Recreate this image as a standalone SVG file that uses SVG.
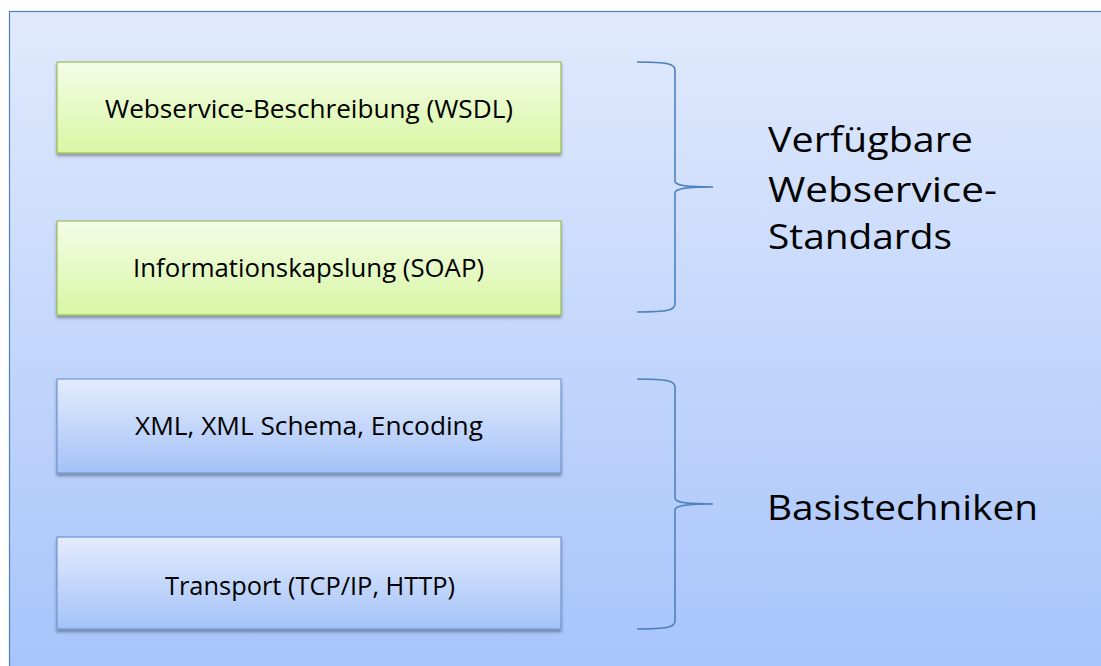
<svg xmlns="http://www.w3.org/2000/svg" width="1101" height="666" viewBox="0 0 1101 666">
  <defs>
    <linearGradient id="bgGrad" x1="0" y1="0" x2="0" y2="1">
      <stop offset="0" stop-color="#E1EAFC"/>
      <stop offset="1" stop-color="#A6C3FB"/>
    </linearGradient>
    <linearGradient id="greenGrad" x1="0" y1="0" x2="0" y2="1">
      <stop offset="0" stop-color="#F4FCE8"/>
      <stop offset="1" stop-color="#D8F7A3"/>
    </linearGradient>
    <linearGradient id="blueGrad" x1="0" y1="0" x2="0" y2="1">
      <stop offset="0" stop-color="#E4ECFD"/>
      <stop offset="1" stop-color="#A4C2F8"/>
    </linearGradient>
    <filter id="shadow" x="-5%" y="-10%" width="110%" height="130%">
      <feDropShadow dx="0" dy="2.5" stdDeviation="1.5" flood-color="#000" flood-opacity="0.35"/>
    </filter>
  </defs>
  <style>
    .green { fill: url(#greenGrad); stroke: #9BBB59; stroke-width: 1.2; filter: url(#shadow); }
    .blue { fill: url(#blueGrad); stroke: #7097D3; stroke-width: 1.2; filter: url(#shadow); }
    .lbl { font-family: "Open Sans", "Noto Sans", sans-serif; font-size: 25px; fill: #000; text-anchor: start; }
    .big { font-family: "Open Sans", "Noto Sans", sans-serif; font-size: 35px; fill: #000; }
    .brace { fill: none; stroke: #4F81BD; stroke-width: 1.6; }
  </style>

  <!-- page background -->
  <rect x="0" y="0" width="1101" height="666" fill="#FFFFFF"/>
  <rect x="9.5" y="11.5" width="1100" height="670" fill="url(#bgGrad)" stroke="#4F81BD" stroke-width="1.2"/>

  <!-- layer boxes -->
  <g id="wsdl">
    <rect class="green" x="57" y="62" width="504" height="91"/>
    <text class="lbl" x="105" y="118" textLength="408" lengthAdjust="spacingAndGlyphs">Webservice-Beschreibung (WSDL)</text>
  </g>
  <g id="soap">
    <rect class="green" x="57" y="221" width="504" height="94"/>
    <text class="lbl" x="133" y="277" textLength="351" lengthAdjust="spacingAndGlyphs">Informationskapslung (SOAP)</text>
  </g>
  <g id="xml">
    <rect class="blue" x="57" y="379" width="504" height="94"/>
    <text class="lbl" x="135" y="435" textLength="348" lengthAdjust="spacingAndGlyphs">XML, XML Schema, Encoding</text>
  </g>
  <g id="transport">
    <rect class="blue" x="57" y="537" width="504" height="92"/>
    <text class="lbl" x="165" y="595" textLength="290" lengthAdjust="spacingAndGlyphs">Transport (TCP/IP, HTTP)</text>
  </g>

  <!-- curly braces grouping the layers -->
  <g id="connectors">
    <path class="brace" d="M637,62 C668,62 675,64 675,70 L675,181 C675,185 683,187 713,187 C683,187 675,189 675,193 L675,304 C675,310 668,312 637,312"/>
    <path class="brace" d="M637,379 C668,379 675,381 675,387 L675,498 C675,502 683,504 713,504 C683,504 675,506 675,510 L675,621 C675,627 668,629 637,629"/>
  </g>

  <!-- group captions -->
  <g id="standards">
    <text class="big" x="768" y="152" textLength="205" lengthAdjust="spacingAndGlyphs">Verfügbare</text>
    <text class="big" x="768" y="202" textLength="229" lengthAdjust="spacingAndGlyphs">Webservice-</text>
    <text class="big" x="768" y="249" textLength="184" lengthAdjust="spacingAndGlyphs">Standards</text>
  </g>
  <g id="basis">
    <text class="big" x="767" y="520" textLength="271" lengthAdjust="spacingAndGlyphs">Basistechniken</text>
  </g>
</svg>
